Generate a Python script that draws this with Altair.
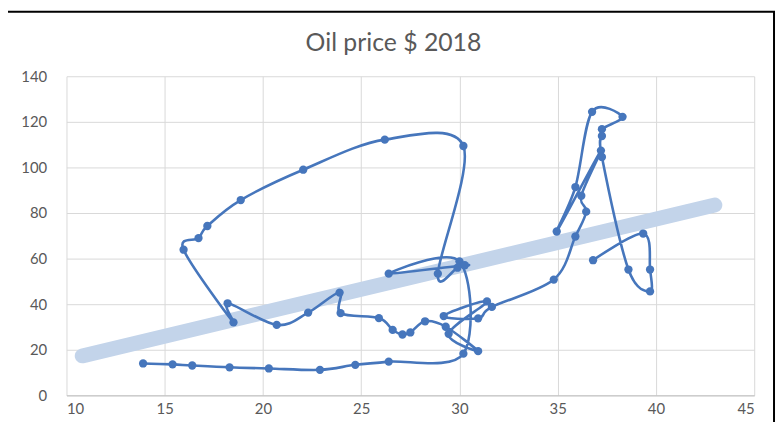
import altair as alt
import pandas as pd

# Connected scatter path, in drawing order (x value, oil price in 2018 $)
x_vals = [13.9, 15.4, 16.4, 18.3, 20.3, 22.9, 24.7, 26.4, 30.2,
          30.0, 26.4, 30.27, 29.9, 28.9, 30.2,
          26.2, 22.05, 18.87, 17.17, 16.72, 15.96,
          18.5, 18.2, 20.7, 22.3, 23.9, 23.95, 25.9, 26.6, 27.1, 27.5, 28.25,
          29.3, 30.95, 29.45, 31.4, 29.2, 30.95, 31.65,
          34.8, 35.9, 36.45, 36.2, 37.2, 34.95, 35.9, 36.75, 38.3,
          37.25, 37.25, 37.25, 38.6, 39.7, 39.7, 39.35, 36.8]
y_vals = [14.0, 13.6, 13.1, 12.3, 11.8, 11.2, 13.4, 14.8, 18.3,
          58.8, 53.4, 57.1, 56.0, 53.4, 109.4,
          112.2, 99.0, 85.7, 74.3, 69.0, 63.9,
          32.0, 40.4, 30.9, 36.3, 45.1, 36.1, 33.9, 28.7, 26.7, 27.6, 32.5,
          30.1, 19.4, 27.0, 41.2, 34.8, 33.8, 38.8,
          50.8, 69.7, 80.6, 87.6, 107.4, 71.9, 91.4, 124.4, 122.2,
          116.8, 113.8, 104.6, 55.2, 45.6, 55.2, 71.0, 59.3]

# Trendline end points
trend_x = [10.8, 43.0]
trend_y = [17.3, 83.5]

x_ticks = [10, 15, 20, 25, 30, 35, 40, 45]
y_ticks = [0, 20, 40, 60, 80, 100, 120, 140]
title_text = ["Oil price $ 2018"]

df = pd.DataFrame({"i": list(range(len(x_vals))), "x": x_vals, "y": y_vals})
tdf = pd.DataFrame({"x": trend_x, "y": trend_y})

BLUE = "#4676bc"
GRAY = "#595959"
FONT = "Lato"

xs = alt.Scale(domain=[10, 45], nice=False, zero=False)
ys = alt.Scale(domain=[0, 140], nice=False)

xax = alt.Axis(values=x_ticks, title=None, grid=True, gridColor="#d9d9d9",
               domainColor="#bfbfbf", domainWidth=1, ticks=False,
               labelPadding=6, labelFontSize=15, labelColor=GRAY, labelFont=FONT)
yax = alt.Axis(values=y_ticks, title=None, grid=True, gridColor="#d9d9d9",
               domain=False, ticks=False, labelPadding=20,
               labelFontSize=15, labelColor=GRAY, labelFont=FONT)

frame = alt.Chart(pd.DataFrame({"a": [0]})).mark_rect(
    filled=False, stroke="black", strokeWidth=2
).encode(x=alt.value(-62), x2=alt.value(714), y=alt.value(-65), y2=alt.value(380))

title = alt.Chart(pd.DataFrame({"t": title_text})).mark_text(
    fontSize=25, color=GRAY, font=FONT, align="center", baseline="alphabetic"
).encode(text="t:N", x=alt.value(330), y=alt.value(-25))

trend = alt.Chart(tdf).mark_line(
    color="#c3d4ea", strokeWidth=15, strokeCap="round"
).encode(x=alt.X("x:Q", scale=xs, axis=xax), y=alt.Y("y:Q", scale=ys, axis=yax))

line = alt.Chart(df).mark_line(
    color=BLUE, strokeWidth=2.6, interpolate="cardinal"
).encode(x=alt.X("x:Q", scale=xs), y=alt.Y("y:Q", scale=ys), order="i:Q")

pts = alt.Chart(df).mark_circle(color=BLUE, size=70, opacity=1).encode(
    x=alt.X("x:Q", scale=xs), y=alt.Y("y:Q", scale=ys))

chart = alt.layer(trend, line, pts, frame, title).properties(
    width=694, height=322,
    autosize=alt.AutoSizeParams(type="none"),
    padding={"left": 59, "top": 67, "right": 22, "bottom": 25},
).configure_view(stroke=None)

chart.save("out.html", embed_options={"renderer": "svg", "actions": False})
